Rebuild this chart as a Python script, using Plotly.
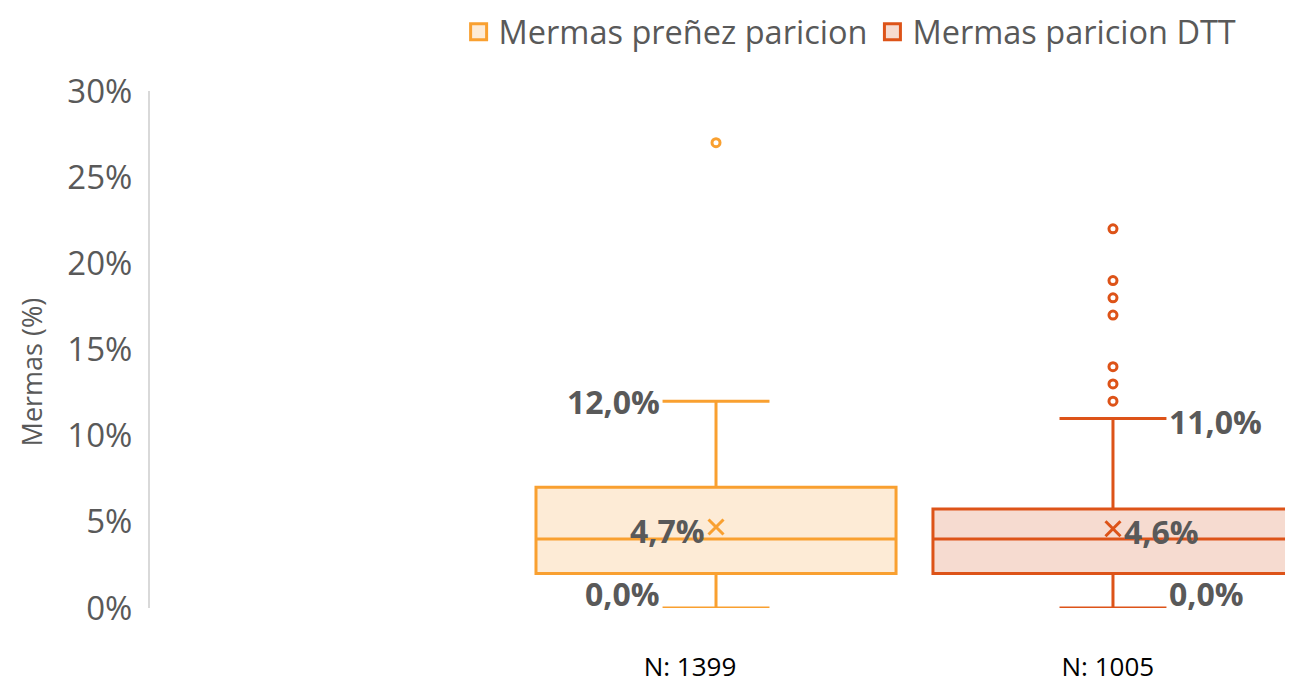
import plotly.graph_objects as go

# ---- data ----
series_names = ["Mermas preñez paricion", "Mermas paricion DTT"]
categories = ["N: 1399", "N: 1005"]
q1_vals = [0.02, 0.02]
median_vals = [0.04, 0.04]
q3_vals = [0.07, 0.0575]
lower_vals = [0.0, 0.0]
upper_vals = [0.12, 0.11]
mean_vals = [0.047, 0.046]
outliers_1 = [0.27]
outliers_2 = [0.22, 0.19, 0.18, 0.17, 0.14, 0.13, 0.12]
y_ticks = [0, 0.05, 0.10, 0.15, 0.20, 0.25, 0.30]

# ---- style ----
line_colors = ["#F9A030", "#DD5318"]
fill_colors = ["#FDEBD6", "#F6DBD0"]
label_color = "#595959"
positions = [0.4952, 0.8425]
tick_positions = [0.4724, 0.838]
box_width = 0.315
whisker_w = 0.297
outliers = [outliers_1, outliers_2]

def pct(v):
    return f"{v*100:.1f}%".replace(".", ",")

fig = go.Figure()
for i in range(2):
    fig.add_trace(go.Box(
        name=series_names[i], x=[positions[i]],
        q1=[q1_vals[i]], median=[median_vals[i]], q3=[q3_vals[i]],
        lowerfence=[lower_vals[i]], upperfence=[upper_vals[i]],
        width=box_width, whiskerwidth=whisker_w,
        line=dict(color=line_colors[i], width=3),
        fillcolor=fill_colors[i], boxpoints=False, hoverinfo="skip",
        showlegend=False,
    ))
for i in range(2):
    fig.add_trace(go.Scatter(
        x=[positions[i]] * len(outliers[i]), y=outliers[i], mode="markers",
        marker=dict(symbol="circle-open", size=8, color=line_colors[i],
                    line=dict(width=3, color=line_colors[i])),
        showlegend=False, hoverinfo="skip"))
    fig.add_trace(go.Scatter(
        x=[positions[i]], y=[mean_vals[i]], mode="markers",
        marker=dict(symbol="x-thin", size=15, color=line_colors[i],
                    line=dict(width=3, color=line_colors[i])),
        showlegend=False, hoverinfo="skip"))
# legend entries
for i in range(2):
    fig.add_trace(go.Scatter(
        x=[None], y=[None], mode="markers", name=series_names[i],
        marker=dict(symbol="square", size=18, color=fill_colors[i],
                    line=dict(width=3, color=line_colors[i])),
        showlegend=True, hoverinfo="skip"))

lab_font = dict(family="Open Sans", size=32, color=label_color, weight="bold")
annos = []
for i in range(2):
    side = -1 if i == 0 else 1
    anchor = "right" if i == 0 else "left"
    cap_x = positions[i] + side * box_width * whisker_w / 2
    annos.append(dict(x=cap_x, y=upper_vals[i], text=pct(upper_vals[i]), xanchor=anchor,
                      yanchor="middle", showarrow=False, font=lab_font, xshift=side * 1,
                      yshift=0 if i == 0 else -3))
    annos.append(dict(x=cap_x, y=lower_vals[i], text=pct(lower_vals[i]), xanchor=anchor,
                      yanchor="middle", showarrow=False, font=lab_font, xshift=side * 1, yshift=15))
    annos.append(dict(x=positions[i], y=mean_vals[i], text=pct(mean_vals[i]), xanchor=anchor,
                      yanchor="middle", showarrow=False, font=lab_font, xshift=side * 9,
                      yshift=-3))
annos.append(dict(xref="paper", yref="paper", x=-0.104, y=0.456, text="Mermas (%)",
                  textangle=-90, showarrow=False, xanchor="center", yanchor="middle",
                  font=dict(family="Open Sans", size=27, color=label_color)))

fig.update_layout(
    width=1285, height=676,
    margin=dict(l=142, r=0, t=83, b=76, autoexpand=False),
    paper_bgcolor="white", plot_bgcolor="white",
    boxmode="overlay",
    showlegend=True,
    legend=dict(orientation="h", x=0.27, y=1.168, xanchor="left", yanchor="top",
                font=dict(family="Open Sans", size=32.5, color=label_color),
                itemwidth=30, tracegroupgap=0),
    annotations=annos,
    xaxis=dict(range=[0, 1], showgrid=False, zeroline=False, showline=False,
               automargin=False,
               tickmode="array", tickvals=tick_positions, ticktext=categories,
               ticks="", tickfont=dict(family="Open Sans", size=26, color="black"),
               ticklabelstandoff=41),
    yaxis=dict(range=[0, 0.30], tickvals=y_ticks, tickformat=".0%",
               automargin=False,
               showgrid=False, zeroline=False, showline=True, linecolor="#D9D9D9",
               linewidth=2, ticks="", ticklabelstandoff=9,
               tickfont=dict(family="Open Sans", size=33, color=label_color)),
)

fig.write_html("out.html")
